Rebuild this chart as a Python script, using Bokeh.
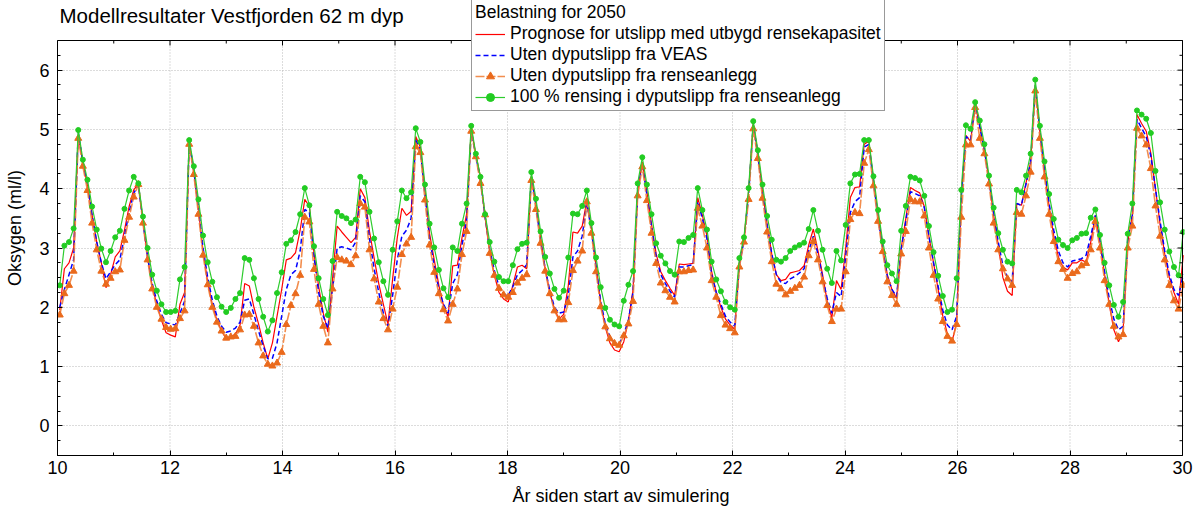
import numpy as np
from bokeh.plotting import figure
from bokeh.models import Range1d, SingleIntervalTicker, FixedTicker, Legend, LegendItem, Label
from bokeh.embed import file_html
from bokeh.resources import INLINE

# ---- data (model output, one value every 30 days, first point at year 10.04) ----
start_year = 10.04
step_days = 30

green = [2.37, 3.04, 3.10, 3.33, 4.99, 4.49, 4.15, 3.70, 3.31, 2.99, 2.76, 2.95, 3.18, 3.29, 3.66, 3.97, 4.20, 4.09, 3.53, 3.00,
         2.55, 2.28, 2.05, 1.92, 1.92, 1.94, 2.47, 2.68, 4.82, 4.38, 3.82, 3.21, 2.76, 2.43, 2.17, 2.01, 1.92, 1.99, 2.14, 2.24,
         2.83, 2.80, 2.49, 2.14, 1.84, 1.59, 1.78, 2.24, 2.59, 3.07, 3.13, 3.27, 3.57, 4.01, 3.72, 3.03, 2.49, 2.14, 1.87, 2.78,
         3.61, 3.54, 3.50, 3.42, 3.48, 4.20, 4.11, 3.61, 3.16, 2.76, 2.44, 2.21, 2.97, 3.45, 3.97, 3.84, 3.94, 5.02, 4.79, 4.07,
         3.41, 3.01, 2.63, 2.32, 2.17, 3.01, 2.95, 3.41, 3.75, 5.06, 4.59, 4.20, 3.57, 3.10, 2.77, 2.51, 2.44, 2.44, 2.71, 2.98,
         3.07, 3.09, 4.28, 3.83, 3.28, 2.85, 2.57, 2.31, 2.16, 2.28, 2.84, 3.58, 3.57, 3.71, 3.97, 3.42, 2.84, 2.34, 1.99, 1.79,
         1.71, 1.68, 2.11, 2.38, 2.61, 4.09, 4.53, 4.07, 3.57, 3.08, 2.87, 2.74, 2.61, 2.55, 3.11, 3.10, 3.17, 3.22, 4.01, 3.64,
         3.31, 2.77, 2.47, 2.27, 2.09, 2.00, 1.96, 2.83, 3.18, 4.01, 5.14, 4.65, 4.07, 3.54, 3.14, 2.80, 2.77, 2.83, 2.95, 3.01,
         3.05, 3.09, 3.32, 3.64, 3.29, 2.97, 2.65, 2.41, 2.95, 2.79, 3.39, 4.09, 4.24, 4.25, 4.82, 4.82, 4.21, 3.64, 3.11, 2.71,
         2.57, 2.44, 3.29, 3.71, 4.20, 4.18, 4.14, 3.88, 3.37, 2.93, 2.53, 2.19, 1.92, 1.96, 2.49, 3.98, 5.07, 5.01, 5.46, 5.15,
         4.75, 4.22, 3.68, 3.25, 2.97, 2.77, 2.74, 3.98, 3.94, 4.22, 4.59, 5.84, 5.06, 4.46, 3.91, 3.49, 3.14, 3.05, 3.00, 3.13,
         3.17, 3.24, 3.25, 3.51, 3.65, 3.22, 2.75, 2.37, 2.04, 1.84, 2.09, 3.24, 3.75, 5.32, 5.25, 5.18, 4.94, 4.30, 3.77, 3.31,
         2.94, 2.68, 2.54, 3.27]

orange = [1.87, 2.23, 2.37, 2.61, 4.85, 4.38, 3.97, 3.42, 2.97, 2.61, 2.39, 2.49, 2.60, 2.63, 3.13, 3.52, 3.86, 4.07, 3.42, 2.80,
          2.31, 2.00, 1.80, 1.66, 1.63, 1.64, 1.81, 1.94, 4.75, 4.24, 3.57, 2.88, 2.38, 2.00, 1.75, 1.60, 1.48, 1.50, 1.51, 1.62,
          1.87, 1.88, 1.68, 1.40, 1.18, 1.04, 1.01, 1.06, 1.24, 1.71, 2.03, 2.23, 2.54, 3.52, 3.44, 2.64, 2.05, 1.68, 1.40, 2.31,
          2.84, 2.80, 2.78, 2.72, 2.87, 3.75, 3.69, 2.97, 2.48, 2.09, 1.81, 1.62, 1.97, 2.34, 2.89, 3.07, 3.18, 4.71, 4.61, 3.81,
          3.05, 2.59, 2.23, 1.96, 1.77, 2.05, 2.31, 2.89, 3.28, 4.97, 4.54, 4.09, 3.56, 2.91, 2.54, 2.32, 2.21, 2.17, 2.25, 2.41,
          2.49, 2.55, 4.14, 3.65, 3.08, 2.61, 2.23, 1.94, 1.79, 1.79, 2.08, 2.62, 2.78, 2.95, 3.78, 3.25, 2.60, 2.01, 1.67, 1.47,
          1.39, 1.36, 1.52, 1.72, 2.10, 3.88, 4.37, 3.80, 3.25, 2.74, 2.41, 2.28, 2.17, 2.09, 2.60, 2.60, 2.62, 2.63, 3.67, 3.37,
          3.00, 2.45, 2.17, 1.86, 1.70, 1.64, 1.57, 2.68, 3.10, 3.82, 5.01, 4.51, 3.84, 3.27, 2.77, 2.39, 2.31, 2.21, 2.27, 2.32,
          2.37, 2.51, 2.87, 3.11, 2.80, 2.43, 2.03, 1.76, 1.97, 1.97, 2.60, 3.48, 3.60, 3.58, 4.43, 4.66, 4.05, 3.45, 2.94, 2.43,
          2.20, 2.05, 2.90, 3.28, 3.82, 3.78, 3.78, 3.54, 3.00, 2.54, 2.14, 1.76, 1.51, 1.43, 1.71, 3.52, 4.74, 4.74, 5.37, 4.85,
          4.59, 4.08, 3.42, 2.97, 2.65, 2.48, 2.37, 3.60, 3.57, 3.88, 4.28, 5.65, 4.85, 4.20, 3.57, 3.11, 2.77, 2.64, 2.49, 2.57,
          2.60, 2.70, 2.74, 2.97, 3.45, 3.00, 2.45, 2.05, 1.68, 1.50, 1.54, 3.00, 3.37, 5.02, 4.89, 4.74, 4.34, 3.71, 3.20, 2.80,
          2.37, 2.11, 1.97, 2.37]

red = [1.95, 2.65, 2.75, 3.00, 4.90, 4.45, 4.05, 3.55, 3.10, 2.75, 2.33, 2.55, 2.85, 2.95, 3.30, 3.70, 3.98, 4.08, 3.45, 2.85,
       2.35, 2.05, 1.78, 1.57, 1.53, 1.50, 2.05, 2.25, 4.78, 4.30, 3.65, 2.95, 2.42, 2.05, 1.78, 1.60, 1.47, 1.50, 1.55, 1.70,
       2.40, 2.36, 2.00, 1.72, 1.40, 1.13, 1.40, 1.85, 2.30, 2.80, 2.83, 2.92, 3.30, 3.82, 3.70, 2.90, 2.35, 1.90, 1.58, 2.48,
       3.37, 3.27, 3.18, 3.09, 3.18, 4.00, 3.85, 3.28, 2.83, 2.40, 2.05, 1.71, 2.48, 3.17, 3.67, 3.55, 3.62, 4.88, 4.70, 3.97,
       3.24, 2.80, 2.37, 2.03, 1.84, 2.70, 2.71, 3.17, 3.57, 5.00, 4.57, 4.20, 3.51, 2.94, 2.54, 2.25, 2.14, 2.09, 2.37, 2.68,
       2.71, 2.65, 4.20, 3.74, 3.17, 2.65, 2.25, 1.97, 1.80, 1.88, 2.37, 3.27, 3.25, 3.37, 3.80, 3.34, 2.71, 2.08, 1.66, 1.40,
       1.28, 1.25, 1.42, 1.78, 2.30, 3.95, 4.45, 3.95, 3.40, 2.90, 2.60, 2.45, 2.32, 2.20, 2.73, 2.72, 2.73, 2.74, 3.85, 3.55,
       3.20, 2.60, 2.25, 2.00, 1.80, 1.70, 1.63, 2.75, 3.15, 3.95, 5.10, 4.60, 3.95, 3.40, 2.90, 2.55, 2.45, 2.47, 2.58, 2.60,
       2.62, 2.70, 3.05, 3.32, 2.95, 2.55, 2.10, 1.82, 2.45, 2.30, 3.00, 3.85, 4.02, 4.03, 4.75, 4.80, 4.15, 3.55, 3.00, 2.55,
       2.30, 2.15, 3.00, 3.50, 4.02, 3.97, 3.93, 3.70, 3.20, 2.75, 2.30, 1.85, 1.55, 1.42, 1.75, 3.90, 4.90, 4.80, 5.42, 5.05,
       4.65, 4.15, 3.55, 3.05, 2.50, 2.27, 2.20, 3.75, 3.72, 4.10, 4.45, 5.75, 4.95, 4.30, 3.70, 3.20, 2.85, 2.68, 2.63, 2.75,
       2.75, 2.80, 2.76, 3.10, 3.55, 3.10, 2.55, 2.05, 1.62, 1.42, 1.60, 3.10, 3.55, 5.25, 5.10, 4.97, 4.60, 4.00, 3.40, 2.90,
       2.50, 2.25, 2.05, 2.88]

blue = [2.00, 2.30, 2.55, 2.80, 4.95, 4.45, 4.05, 3.55, 3.10, 2.75, 2.48, 2.60, 2.72, 2.80, 3.20, 3.60, 3.92, 4.07, 3.45, 2.85,
        2.40, 2.10, 1.88, 1.74, 1.72, 1.70, 1.90, 2.10, 4.80, 4.30, 3.68, 3.00, 2.50, 2.12, 1.85, 1.68, 1.58, 1.60, 1.65, 1.75,
        2.12, 2.14, 1.88, 1.60, 1.35, 1.13, 1.14, 1.40, 1.85, 2.30, 2.55, 2.62, 2.95, 3.65, 3.60, 2.85, 2.25, 1.85, 1.65, 2.30,
        3.00, 3.02, 3.00, 2.97, 3.10, 3.88, 3.78, 3.15, 2.65, 2.25, 1.90, 1.68, 2.20, 2.80, 3.20, 3.30, 3.50, 4.82, 4.66, 3.90,
        3.15, 2.70, 2.30, 2.05, 1.90, 2.40, 2.55, 3.05, 3.45, 4.98, 4.55, 4.15, 3.53, 2.98, 2.62, 2.35, 2.22, 2.20, 2.35, 2.55,
        2.62, 2.72, 4.20, 3.72, 3.12, 2.65, 2.28, 2.00, 1.90, 1.92, 2.20, 2.85, 2.95, 3.20, 3.75, 3.30, 2.68, 2.10, 1.72, 1.50,
        1.40, 1.38, 1.55, 1.78, 2.25, 3.95, 4.42, 3.90, 3.35, 2.85, 2.55, 2.40, 2.27, 2.17, 2.68, 2.68, 2.70, 2.72, 3.78, 3.50,
        3.15, 2.55, 2.25, 2.05, 1.85, 1.75, 1.68, 2.72, 3.12, 3.90, 5.08, 4.58, 3.93, 3.38, 2.90, 2.55, 2.42, 2.40, 2.48, 2.52,
        2.58, 2.65, 2.95, 3.20, 2.90, 2.50, 2.15, 1.90, 2.25, 2.18, 2.85, 3.60, 3.78, 3.85, 4.70, 4.75, 4.12, 3.52, 3.00, 2.52,
        2.30, 2.18, 2.98, 3.45, 3.95, 3.92, 3.88, 3.68, 3.20, 2.75, 2.35, 1.95, 1.70, 1.62, 1.85, 3.85, 4.88, 4.82, 5.42, 5.05,
        4.65, 4.15, 3.60, 3.10, 2.70, 2.50, 2.43, 3.75, 3.72, 4.08, 4.45, 5.75, 4.98, 4.32, 3.75, 3.30, 2.95, 2.75, 2.68, 2.78,
        2.80, 2.82, 2.88, 3.20, 3.55, 3.12, 2.60, 2.15, 1.80, 1.62, 1.68, 3.15, 3.55, 5.17, 5.02, 4.88, 4.55, 4.00, 3.45, 2.95,
        2.55, 2.30, 2.20, 2.55]

labels = ["Prognose for utslipp med utbygd rensekapasitet",
          "Uten dyputslipp fra VEAS",
          "Uten dyputslipp fra renseanlegg",
          "100 % rensing i dyputslipp fra renseanlegg"]
legend_title = "Belastning for 2050"
title_text = "Modellresultater Vestfjorden 62 m dyp"
x_label = "År siden start av simulering"
y_label = "Oksygen (ml/l)"

x_lo, x_hi = 10, 30
y_lo, y_hi = -0.5, 6.5
x_major = list(range(10, 31, 2))
x_minor = list(range(11, 30, 2))
y_major = list(range(0, 7))
y_minor = [v / 4 for v in range(-2, 27) if v % 4 != 0]

n = len(green)
years = start_year + np.arange(n) * step_days / 365.0

FONT = "Liberation Sans"

# the plotting area reaches the top of the canvas, so the legend can sit above the axes box
box_h, box_w = 415.0, 1125.0          # pixel size of the axes box
upy = (y_hi - y_lo) / box_h           # data units per pixel (vertical)
upx = (x_hi - x_lo) / box_w           # data units per pixel (horizontal)
y_top = y_hi + 40 * upy
x_right = x_hi + 2 * upx

p = figure(width=1200, height=512, x_range=Range1d(x_lo, x_right), y_range=Range1d(y_lo, y_top),
           output_backend="svg", toolbar_location=None, title=None,
           min_border_left=57, min_border_right=16, min_border_top=0, min_border_bottom=57)
p.background_fill_color = "white"
p.border_fill_color = "white"
p.outline_line_color = None

xt = SingleIntervalTicker(interval=2, num_minor_ticks=2)
yt = FixedTicker(ticks=y_major, minor_ticks=y_minor)
p.xaxis.ticker = xt
p.yaxis.ticker = yt
p.ygrid.ticker = yt
p.xgrid.visible = False
p.xaxis.bounds = (x_lo, x_hi)
p.yaxis.bounds = (y_lo, y_hi)

for ax in [p.xaxis[0], p.yaxis[0]]:
    ax.major_tick_in = 5
    ax.major_tick_out = 0
    ax.minor_tick_in = 3
    ax.minor_tick_out = 0
    ax.axis_line_color = "black"
    ax.major_tick_line_color = "black"
    ax.minor_tick_line_color = "black"
    ax.major_label_text_font = FONT
    ax.major_label_text_font_size = "18px"
    ax.major_label_text_color = "black"
    ax.axis_label_text_font = FONT
    ax.axis_label_text_font_size = "18px"
    ax.axis_label_text_font_style = "normal"
    ax.axis_label_text_color = "black"

p.xaxis.axis_label = x_label
p.yaxis.axis_label = y_label
p.xaxis.major_label_standoff = 5
p.xaxis.axis_label_standoff = 9
p.yaxis.major_label_standoff = 8
p.yaxis.axis_label_standoff = 11

p.ygrid.grid_line_color = "#b8b8b8"
p.ygrid.grid_line_dash = "1 2"
p.ygrid.grid_line_width = 1
# vertical grid lines, limited to the axes box
p.segment(x0=x_major, y0=y_lo, x1=x_major, y1=y_hi, line_color="#b8b8b8", line_dash="1 2", line_width=1)

r_red = p.line(years, red, line_color="#ff0000", line_width=1.2)
r_blue = p.line(years, blue, line_color="#0000ff", line_width=1.5, line_dash="5 3")
r_or_l = p.line(years, orange, line_color="#f07a30", line_width=1.6, line_dash="9 2", line_alpha=0.85)
r_or_m = p.scatter(years, orange, marker="triangle", size=7, fill_color="#ea6a1c", line_color="#ea6a1c")
r_gr_l = p.line(years, green, line_color="#2ecc2e", line_width=1.2)
r_gr_m = p.scatter(years, green, marker="circle", size=5, fill_color="#22cc22", line_color="#22cc22")

# white strip above the axes box, then the box's top/right edges
p.quad(left=x_lo, right=x_right, bottom=y_hi, top=y_top, fill_color="white", line_color=None)
p.segment(x0=x_lo, y0=y_hi, x1=x_hi, y1=y_hi, line_color="black", line_width=1)
p.segment(x0=x_hi, y0=y_lo, x1=x_hi, y1=y_hi, line_color="black", line_width=1)
# inward ticks on the top and right edges
p.segment(x0=x_major, y0=y_hi, x1=x_major, y1=y_hi - 5 * upy, line_color="black", line_width=1)
p.segment(x0=x_minor, y0=y_hi, x1=x_minor, y1=y_hi - 3 * upy, line_color="black", line_width=1)
p.segment(x0=x_hi, y0=y_major, x1=x_hi - 5 * upx, y1=y_major, line_color="black", line_width=1)
p.segment(x0=x_hi, y0=y_minor, x1=x_hi - 3 * upx, y1=y_minor, line_color="black", line_width=1)

# chart title (top-left; kept inside the drawing area so it is not clipped)
p.add_layout(Label(x=x_lo + 2 * upx, y=y_hi + 25 * upy, text=title_text, text_font=FONT,
                   text_font_size="20.5px", text_color="black", text_baseline="alphabetic"))

legend = Legend(items=[
    LegendItem(label=labels[0], renderers=[r_red]),
    LegendItem(label=labels[1], renderers=[r_blue]),
    LegendItem(label=labels[2], renderers=[r_or_l, r_or_m]),
    LegendItem(label=labels[3], renderers=[r_gr_l, r_gr_m]),
], location=(414, 344), title=legend_title)
legend.title_text_font = FONT
legend.title_text_font_size = "17.5px"
legend.title_text_font_style = "normal"
legend.title_text_color = "black"
legend.label_text_font = FONT
legend.label_text_font_size = "17.5px"
legend.label_text_color = "black"
legend.border_line_color = "#333333"
legend.border_line_width = 1.5
legend.background_fill_color = "white"
legend.background_fill_alpha = 1
legend.padding = 3
legend.spacing = 0
legend.margin = 0
legend.label_height = 20
legend.glyph_height = 20
legend.glyph_width = 30
legend.label_standoff = 5
legend.title_standoff = 0
p.add_layout(legend)

open("out.html", "w").write(file_html(p, INLINE))
